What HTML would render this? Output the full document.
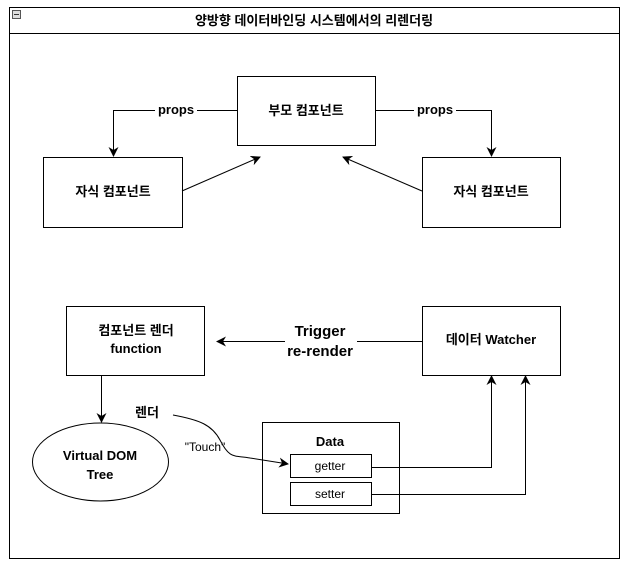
<!DOCTYPE html>
<html><head><meta charset="utf-8"><style>
body{margin:0;background:#fff;}
svg{display:block;font-family:"Liberation Sans","Noto Sans CJK KR",sans-serif;}
</style></head><body>
<svg width="628" height="567" viewBox="0 0 628 567">
<defs><marker id="a" markerWidth="10" markerHeight="10" refX="9" refY="5" orient="auto" markerUnits="userSpaceOnUse"><path d="M0,0 L10,5 L0,10 L3,5 z" fill="#000"/></marker></defs>
<rect x="9.5" y="7.5" width="610" height="551" fill="#fff" stroke="#000"/>
<line x1="9" y1="33.5" x2="620" y2="33.5" stroke="#000"/>
<rect x="12.5" y="10.5" width="8" height="8" fill="#ddd" stroke="#555"/>
<line x1="14" y1="14.5" x2="19" y2="14.5" stroke="#333"/>
<text x="314" y="25" font-size="13" font-weight="bold" text-anchor="middle">양방향 데이터바인딩 시스템에서의 리렌더링</text>
<g fill="#fff" stroke="#000">
<rect x="237.5" y="76.5" width="138" height="69"/>
<rect x="43.5" y="157.5" width="139" height="70"/>
<rect x="422.5" y="157.5" width="138" height="70"/>
<rect x="66.5" y="306.5" width="138" height="69"/>
<rect x="422.5" y="306.5" width="138" height="69"/>
<ellipse cx="100.5" cy="462" rx="68" ry="39"/>
<rect x="262.5" y="422.5" width="137" height="91"/>
<rect x="290.5" y="454.5" width="81" height="23"/>
<rect x="290.5" y="482.5" width="81" height="23"/>
</g>
<g fill="none" stroke="#000">
<path d="M237,110.5 H113.5 V156" marker-end="url(#a)"/>
<path d="M376,110.5 H491.5 V156" marker-end="url(#a)"/>
<path d="M182,191 L260,157" marker-end="url(#a)"/>
<path d="M422,191 L343,157" marker-end="url(#a)"/>
<path d="M422,341.5 H217" marker-end="url(#a)"/>
<path d="M101.5,375 V422" marker-end="url(#a)"/>
<path d="M173,415 C200,420 212,425 220,440 C230,460 235,455 250,458 L288,464" marker-end="url(#a)"/>
<path d="M371,467.5 H491.5 V376" marker-end="url(#a)"/>
<path d="M371,494.5 H525.5 V376" marker-end="url(#a)"/>
</g>
<rect x="155" y="100" width="42" height="18" fill="#fff"/>
<rect x="414" y="100" width="42" height="18" fill="#fff"/>
<rect x="285" y="320" width="72" height="40" fill="#fff"/>
<g font-size="13" font-weight="bold" text-anchor="middle">
<text x="176" y="114">props</text>
<text x="435" y="114">props</text>
<text x="306" y="115">부모 컴포넌트</text>
<text x="113" y="196">자식 컴포넌트</text>
<text x="491" y="196">자식 컴포넌트</text>
<text x="136" y="335">컴포넌트 렌더</text>
<text x="136" y="353">function</text>
<text x="491" y="344">데이터 Watcher</text>
<text x="320" y="336" font-size="15">Trigger</text>
<text x="320" y="356" font-size="15">re-render</text>
<text x="100" y="460">Virtual DOM</text>
<text x="100" y="479">Tree</text>
<text x="147" y="417">렌더</text>
<text x="330" y="446">Data</text>
</g>
<g font-size="12" text-anchor="middle">
<text x="205" y="451">"Touch"</text>
<text x="330" y="470">getter</text>
<text x="330" y="498">setter</text>
</g>
</svg>
</body></html>
